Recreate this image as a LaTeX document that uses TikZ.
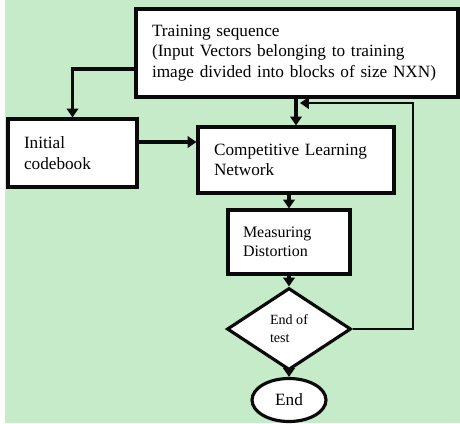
\documentclass[tikz,border=0pt]{standalone}
\usepackage{fontspec}
\setmainfont{Liberation Serif}
\usepackage[svgnames]{xcolor}
\definecolor{Back}{HTML}{C6EBC9}
\definecolor{Border}{HTML}{0A0A0A}
\definecolor{White}{HTML}{FFFFFF}
\usetikzlibrary{shapes.geometric, arrows.meta, calc}
\tikzset{
  every picture/.style={>={Triangle[length=5pt, width=6.5pt]}},
  box/.style={draw=Border, fill=White, line width=1.8pt, align=left, inner xsep=0.32cm,
    font=\fontsize{9.8}{11.6}\selectfont},
  arr/.style={->, draw=Border, line width=1.8pt},
  loopline/.style={->, draw=Border, line width=1.4pt}}

\begin{document}
\begin{tikzpicture}[x=0.02cm, y=-0.02cm]
    \useasboundingbox (0,0) rectangle (460,423);
    \fill[Back] (5,0) rectangle (460,423);

    \node[box, text width=5.8cm, minimum height=1.76cm] (train) at (297,53)
      {Training sequence\\(Input Vectors belonging to training\\image divided into blocks of size NXN)\\[3pt]};
    \node[box, text width=1.94cm, minimum height=1.36cm] (init) at (72.5,153)
      {Initial\\codebook\\[2pt]};
    \node[box, text width=3.28cm, minimum height=1.32cm] (comp) at (296,160)
      {Competitive Learning\\Network};
    \node[box, text width=1.84cm, minimum height=1.28cm, inner xsep=0.3cm,
      font=\fontsize{9.1}{10.8}\selectfont] (meas) at (289,242)
      {Measuring\\Distortion\\[4pt]};
    \node[diamond, draw=Border, fill=White, line width=1.8pt, inner sep=0pt, align=left,
      minimum width=2.48cm, minimum height=1.64cm,
      font=\fontsize{8}{10.2}\selectfont] (test) at (289,329)
      {End of\\test\hspace*{6pt}};
    \node[ellipse, draw=Border, fill=White, line width=1.8pt, inner sep=0pt,
      minimum width=1.48cm, minimum height=0.86cm,
      font=\fontsize{9.8}{11.6}\selectfont] (end) at (289,400) {End};

    \coordinate (back) at (413,103);

    \draw[arr] ($(train.west)+(0,16)$) -| (init.north);
    \draw[arr] ($(init.east)+(0,-11)$) coordinate (a) -- (a -| comp.west);
    \draw[arr] (train.south -| comp.north) -- (comp.north);
    \draw[arr] (comp.south -| meas.north) -- (meas.north);
    \draw[arr] (meas.south) -- (test.north);
    \draw[arr] (test.south) -- (end.north);
    \draw[loopline] (test.east) -| (back) -- ($(back -| comp.north)+(4,0)$);
  \end{tikzpicture}
\end{document}
